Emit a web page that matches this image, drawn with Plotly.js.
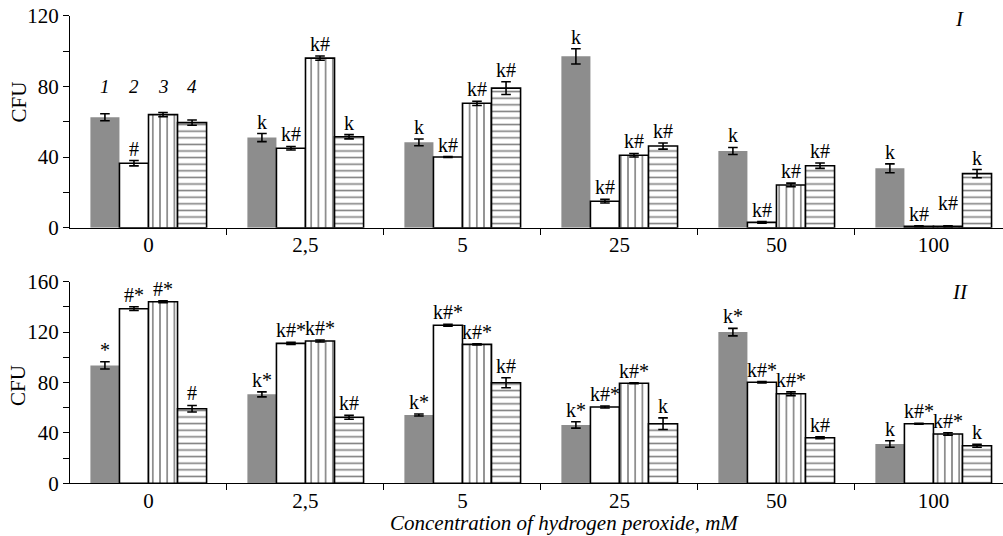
<!DOCTYPE html>
<html>
<head>
<meta charset="utf-8">
<script src="https://cdn.plot.ly/plotly-3.0.1.min.js"></script>
<style>html,body{margin:0;padding:0;background:#fff;}#chart{width:1003px;height:536px;}</style>
</head>
<body>
<div id="chart"></div>
<script>
// ---- Data ----
const categories = ['0', '2,5', '5', '25', '50', '100'];
const seriesNames = ['1', '2', '3', '4'];

// Panel I
const topS1 = [62.5, 51, 48.3, 97, 43.4, 33.6];
const topE1 = [2, 2.3, 1.9, 4.3, 2, 2.5];
const topS2 = [36.5, 45, 40, 15, 3, 0.8];
const topE2 = [1.5, 1, 0.3, 1, 0.5, 0.3];
const topS3 = [64, 96, 70.4, 41, 24.2, 0.8];
const topE3 = [1.2, 1.2, 1.2, 1, 1, 0.3];
const topS4 = [59.5, 51.5, 79, 46.2, 35.1, 30.6];
const topE4 = [1.5, 1.2, 3.6, 1.7, 1.5, 2.3];

const topL1 = ['', 'k', 'k', 'k', 'k', 'k'];
const topL2 = ['#', 'k#', 'k#', 'k#', 'k#', 'k#'];
const topL3 = ['', 'k#', 'k#', 'k#', 'k#', 'k#'];
const topL4 = ['', 'k', 'k#', 'k#', 'k#', 'k'];

// Panel II
const botS1 = [93.6, 70.6, 54.2, 46.3, 120, 31.2];
const botE1 = [2.9, 2, 0.8, 2.5, 3, 2.6];
const botS2 = [138.6, 111.1, 125.4, 60.6, 80.2, 47.3];
const botE2 = [1.5, 0.8, 0.8, 0.8, 0.5, 0.4];
const botS3 = [144.1, 113, 110.3, 79.4, 71.1, 39.1];
const botE3 = [0.8, 0.8, 0.5, 0.3, 1.5, 1];
const botS4 = [59.2, 52.4, 79.8, 47.3, 36.2, 29.8];
const botE4 = [2.6, 1.5, 4, 4.6, 0.8, 1.2];

const botL1 = ['*', 'k*', 'k*', 'k*', 'k*', 'k'];
const botL2 = ['#*', 'k#*', 'k#*', 'k#*', 'k#*', 'k#*'];
const botL3 = ['#*', 'k#*', 'k#*', 'k#*', 'k#*', 'k#*'];
const botL4 = ['#', 'k#', 'k#', 'k', 'k#', 'k'];

const topTicks = [0, 20, 40, 60, 80, 100, 120];
const topTickText = ['0', '', '40', '', '80', '', '120'];
const botTicks = [0, 20, 40, 60, 80, 100, 120, 140, 160];
const botTickText = ['0', '', '40', '', '80', '', '120', '', '160'];

// ---- Styling ----
const FONT = 'Liberation Serif, Times New Roman, serif';
const GRAY = '#8d8d8d';
const BARGAP = 0.26;
const TICKSIZE = 21;
const LABSIZE = 20;

function makeStyle(j) {
  if (j === 0) return {color: GRAY, line: {color: GRAY, width: 0}};
  if (j === 1) return {color: '#ffffff', line: {color: '#000', width: 1.6}};
  if (j === 2) return {color: '#ffffff', line: {color: '#000', width: 1.6},
    pattern: {shape: '|', fgcolor: '#000', bgcolor: '#fff', size: 7.2, solidity: 0.22, fillmode: 'overlay'}};
  return {color: '#ffffff', line: {color: '#000', width: 1.6},
    pattern: {shape: '-', fgcolor: '#000', bgcolor: '#fff', size: 6.6, solidity: 0.24, fillmode: 'overlay'}};
}

const topVals = [topS1, topS2, topS3, topS4];
const topErrs = [topE1, topE2, topE3, topE4];
const topLabs = [topL1, topL2, topL3, topL4];
const botVals = [botS1, botS2, botS3, botS4];
const botErrs = [botE1, botE2, botE3, botE4];
const botLabs = [botL1, botL2, botL3, botL4];

const traces = [];
const catIdx = categories.map((c, i) => i);
function addPanel(vals, errs, xa, ya) {
  for (let j = 0; j < 4; j++) {
    traces.push({
      type: 'bar', x: catIdx, y: vals[j], name: seriesNames[j],
      xaxis: xa, yaxis: ya, showlegend: false,
      marker: makeStyle(j),
      error_y: {type: 'data', array: errs[j], visible: true, color: '#000', thickness: 1.6, width: 4.8},
      hoverinfo: 'y'
    });
  }
}
addPanel(topVals, topErrs, 'x', 'y');
addPanel(botVals, botErrs, 'x2', 'y2');

// extra vertical lift (px) for labels that would collide with a neighbour
const labelLift = {'x|2|5': 11};

const annotations = [];
const bw = (1 - BARGAP) / 4;
function addLabels(vals, errs, labs, xr, yr) {
  for (let j = 0; j < 4; j++) {
    for (let i = 0; i < categories.length; i++) {
      if (!labs[j][i]) continue;
      const lift = labelLift[xr + '|' + j + '|' + i] || 0;
      annotations.push({
        x: i + (j - 1.5) * bw, y: vals[j][i] + errs[j][i], xref: xr, yref: yr,
        text: labs[j][i], showarrow: false, yanchor: 'bottom', yshift: -1 + lift,
        font: {family: FONT, size: LABSIZE, color: '#000'}
      });
    }
  }
}
addLabels(topVals, topErrs, topLabs, 'x', 'y');
addLabels(botVals, botErrs, botLabs, 'x2', 'y2');

// series numbers above first group (panel I)
for (let j = 0; j < 4; j++) {
  annotations.push({
    x: 0 + (j - 1.5) * bw, y: 80, xref: 'x', yref: 'y', text: '<i>' + seriesNames[j] + '</i>',
    showarrow: false, yanchor: 'middle', font: {family: FONT, size: 19, color: '#000'}
  });
}
// panel labels
annotations.push({x: 0.960, y: 0.9646, xref: 'paper', yref: 'paper', text: '<i>I</i>', showarrow: false,
  yanchor: 'middle', font: {family: FONT, size: 21, color: '#000'}});
annotations.push({x: 0.9646, y: 0.4558, xref: 'paper', yref: 'paper', text: '<i>II</i>', showarrow: false,
  yanchor: 'middle', font: {family: FONT, size: 21, color: '#000'}});
// x title
annotations.push({x: 0.5295, y: 1 - 523 / 536, xref: 'paper', yref: 'paper', text: '<i>Concentration of hydrogen peroxide, mM</i>',
  showarrow: false, yanchor: 'middle', font: {family: FONT, size: 21, color: '#000'}});
// y titles (pixel positions converted to paper coords)
const L = 70, W = 933, H = 536;
[[18, 102.5], [18, 386]].forEach(p => {
  annotations.push({x: (p[0] - L) / W, y: 1 - p[1] / H, xref: 'paper', yref: 'paper', text: 'CFU',
    textangle: -90, showarrow: false, xanchor: 'center', yanchor: 'middle',
    font: {family: FONT, size: 21, color: '#000'}});
});

const xaxisBase = {
  type: 'linear', range: [-0.5, 5.443], tickmode: 'array', tickvals: catIdx, ticktext: categories,
  showline: true, linecolor: '#000', linewidth: 1, ticks: '', showgrid: false, zeroline: false,
  ticklabelstandoff: -2,
  tickfont: {family: FONT, size: TICKSIZE, color: '#000'}, fixedrange: true
};
const boundaryTicks = [0.5, 1.5, 2.5, 3.5, 4.5];
function boundaryAxis(over, anchor) {
  return {overlaying: over, anchor: anchor, range: [-0.5, 5.443], tickmode: 'array', tickvals: boundaryTicks,
    ticktext: boundaryTicks.map(() => ''), ticks: 'outside', ticklen: 6, tickwidth: 1, tickcolor: '#000',
    showline: false, showgrid: false, zeroline: false, side: 'bottom'};
}
function yAxis(domain, range, vals, text, anchor) {
  return {domain: domain, range: range, anchor: anchor, tickmode: 'array', tickvals: vals,
    ticktext: text, ticks: 'outside', ticklen: 6, tickcolor: '#000', showline: true, linecolor: '#000',
    linewidth: 1, showgrid: false, zeroline: false, tickfont: {family: FONT, size: TICKSIZE, color: '#000'},
    fixedrange: true};
}

const layout = {
  width: 1003, height: 536,
  margin: {l: 70, r: 0, t: 0, b: 0},
  paper_bgcolor: '#fff', plot_bgcolor: '#fff',
  barmode: 'group', bargap: BARGAP, bargroupgap: 0,
  showlegend: false,
  font: {family: FONT, size: 19, color: '#000'},
  xaxis: Object.assign({}, xaxisBase, {anchor: 'y', domain: [0, 1]}),
  xaxis2: Object.assign({}, xaxisBase, {anchor: 'y2', domain: [0, 1]}),
  xaxis3: boundaryAxis('x', 'y'),
  xaxis4: boundaryAxis('x2', 'y2'),
  yaxis: yAxis([0.5752, 0.9707], [0, 120], topTicks, topTickText, 'x'),
  yaxis2: yAxis([0.0983, 0.4744], [0, 160], botTicks, botTickText, 'x2'),
  annotations: annotations
};

// invisible traces to activate the boundary tick axes
traces.push({type: 'scatter', x: [0], y: [0], xaxis: 'x3', yaxis: 'y', mode: 'markers',
  marker: {opacity: 0}, hoverinfo: 'skip', showlegend: false});
traces.push({type: 'scatter', x: [0], y: [0], xaxis: 'x4', yaxis: 'y2', mode: 'markers',
  marker: {opacity: 0}, hoverinfo: 'skip', showlegend: false});

Plotly.newPlot('chart', traces, layout, {displayModeBar: false, staticPlot: true});
</script>
</body>
</html>
